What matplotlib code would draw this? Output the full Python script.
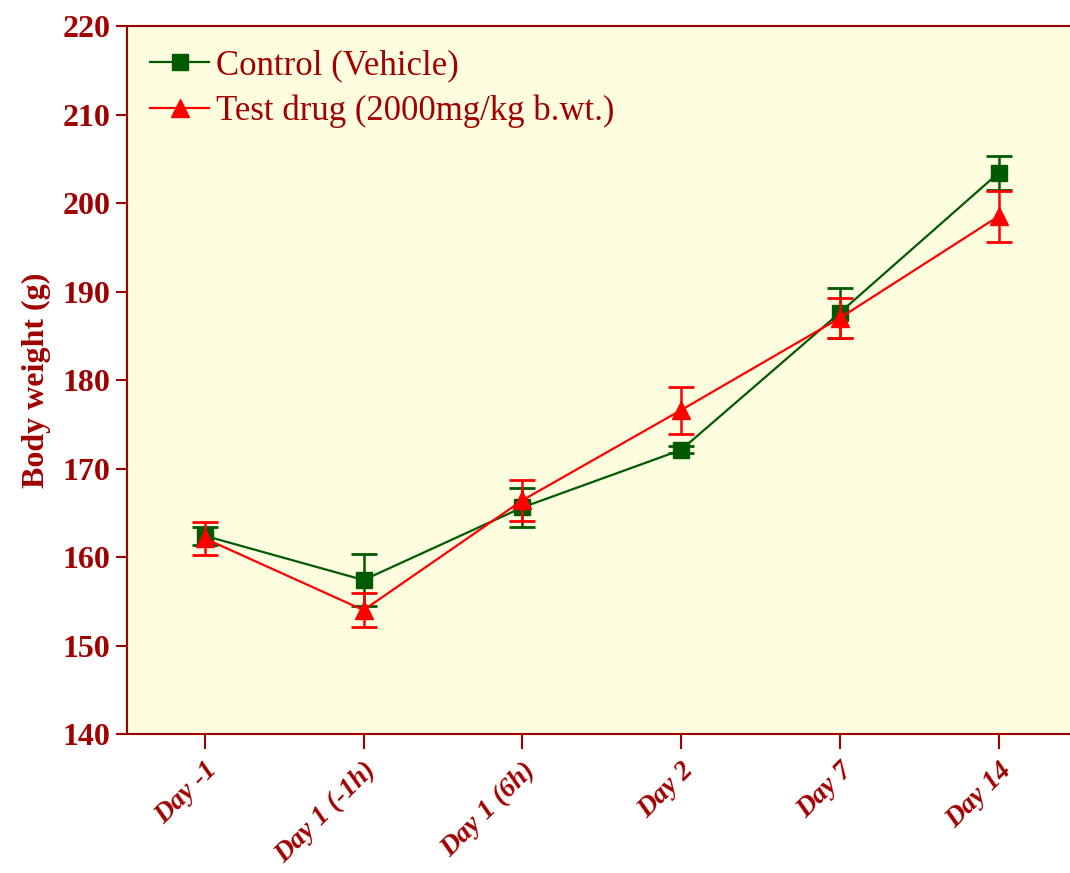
import matplotlib.pyplot as plt
from matplotlib.lines import Line2D
import numpy as np

# Данные
days = ["Day -1", "Day 1 (-1h)", "Day 1 (6h)", "Day 2", "Day 7", "Day 14"]
control = [162.4, 157.4, 165.6, 172.1, 187.6, 203.4]
control_err = [1.0, 2.9, 2.2, 0.4, 2.8, 1.95]
drug = [162.1, 154.0, 166.4, 176.6, 187.0, 198.5]
drug_err = [1.9, 1.9, 2.3, 2.65, 2.3, 2.9]

dark_red = '#a00000'
green = '#005a00'
red = '#ff0000'

plt.rcParams['font.family'] = ['Liberation Serif', 'DejaVu Serif']

fig = plt.figure(figsize=(10.7, 8.73), dpi=100)
ax = fig.add_axes([0.1187, 0.1592, 0.8813, 0.811])
ax.set_facecolor('#fffde0')

x = np.arange(len(days))
ax.errorbar(x, control, yerr=control_err, color=green, marker='s', markersize=11,
            linewidth=1.6, capsize=9.5, capthick=2, elinewidth=1.8, zorder=3)
ax.errorbar(x, drug, yerr=drug_err, color=red, marker='^', markersize=13,
            linewidth=1.6, capsize=9.5, capthick=2, elinewidth=1.8, zorder=4)

ax.set_xlim(-0.49, 5.45)
ax.set_ylim(140, 220)
ax.set_yticks(range(140, 221, 10))
ax.set_xticks(x)
ax.set_xticklabels(days, rotation=45, ha='right', rotation_mode='anchor',
                   fontdict={'size': 20, 'weight': 'bold', 'style': 'italic'}, color=dark_red)
for lbl in ax.get_yticklabels():
    lbl.set_fontsize(23)
    lbl.set_fontweight('bold')
    lbl.set_color(dark_red)

ax.set_ylabel('Body weight (g)', fontdict={'size': 23, 'weight': 'bold'}, color=dark_red, labelpad=8)

for side in ['left', 'bottom', 'top']:
    ax.spines[side].set_color(dark_red)
    ax.spines[side].set_linewidth(1.5)
ax.spines['right'].set_visible(False)
ax.tick_params(axis='y', direction='out', length=8, width=1.5, color=dark_red, pad=4)
ax.tick_params(axis='x', direction='out', length=11, width=1.5, color=dark_red, pad=6)

# Легенда без планок погрешностей
handles = [Line2D([], [], color=green, marker='s', markersize=11, linewidth=1.6),
           Line2D([], [], color=red, marker='^', markersize=13, linewidth=1.6)]
leg = ax.legend(handles, ['Control (Vehicle)', 'Test drug (2000mg/kg b.wt.)'],
                loc='upper left', frameon=False, fontsize=25, handlelength=1.7,
                handletextpad=0.2, labelspacing=0.35, borderaxespad=0.27)
for t in leg.get_texts():
    t.set_color(dark_red)

plt.savefig('out.png', dpi=100)
